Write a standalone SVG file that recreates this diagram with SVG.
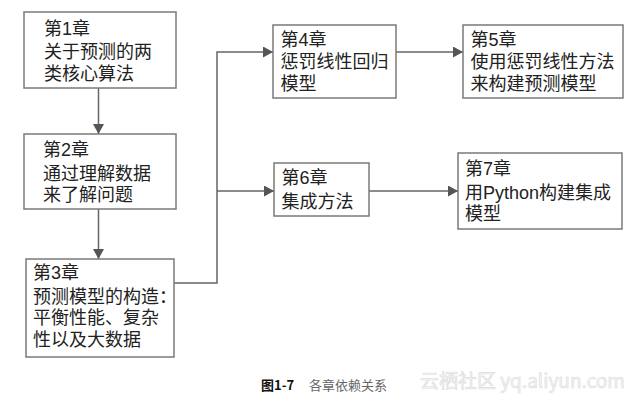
<svg xmlns="http://www.w3.org/2000/svg" width="640" height="402" viewBox="0 0 640 402">
<style>
.box{fill:#fff;stroke:#7a7a7a;stroke-width:1.5}
.t{font-family:"Liberation Sans","Noto Sans CJK SC",sans-serif;font-size:18px;fill:#222}
.c{fill:none;stroke:#666;stroke-width:1.5}
.cap{font-family:"Noto Sans CJK SC","Liberation Sans",sans-serif;font-size:13px}
.wm{font-family:"Noto Sans CJK SC","Liberation Sans",sans-serif;font-size:19px;fill:#f4f4f4;stroke:#dcdcdc;stroke-width:0.6}
</style>
<defs>
<marker id="ah" markerUnits="userSpaceOnUse" markerWidth="11" markerHeight="11" refX="10" refY="5.5" orient="auto">
<path d="M0,0 L10,5.5 L0,11 z" fill="#555"/>
</marker>
</defs>
<rect width="640" height="402" fill="#fff"/>
<g id="connectors">
<line class="c" x1="98.5" y1="88" x2="98.5" y2="134" marker-end="url(#ah)"/>
<line class="c" x1="98.5" y1="209" x2="98.5" y2="259" marker-end="url(#ah)"/>
<path class="c" d="M174,283 H217 V52 H273" marker-end="url(#ah)"/>
<path class="c" d="M217,191 H274" marker-end="url(#ah)"/>
<line class="c" x1="396" y1="52" x2="463" y2="52" marker-end="url(#ah)"/>
<line class="c" x1="369" y1="191" x2="458" y2="191" marker-end="url(#ah)"/>
</g>
<g id="n1">
<rect class="box" x="24" y="12" width="152" height="76"/>
<text class="t" x="44" y="35">第1章</text>
<text class="t" x="44" y="58">关于预测的两</text>
<text class="t" x="44" y="80">类核心算法</text>
</g>
<g id="n2">
<rect class="box" x="24" y="134" width="152" height="75"/>
<text class="t" x="43" y="155.5">第2章</text>
<text class="t" x="43" y="179.5">通过理解数据</text>
<text class="t" x="43" y="201">来了解问题</text>
</g>
<g id="n3">
<rect class="box" x="26" y="259" width="148" height="98"/>
<text class="t" x="33" y="279">第3章</text>
<text class="t" x="33" y="302.5">预测模型的构造：</text>
<text class="t" x="33" y="324">平衡性能、复杂</text>
<text class="t" x="33" y="345.5">性以及大数据</text>
</g>
<g id="n4">
<rect class="box" x="273" y="25" width="123" height="73"/>
<text class="t" x="280.5" y="45.5">第4章</text>
<text class="t" x="280.5" y="68">惩罚线性回归</text>
<text class="t" x="280.5" y="90">模型</text>
</g>
<g id="n5">
<rect class="box" x="463" y="25" width="160" height="73"/>
<text class="t" x="470.5" y="45.5">第5章</text>
<text class="t" x="470.5" y="68">使用惩罚线性方法</text>
<text class="t" x="470.5" y="90">来构建预测模型</text>
</g>
<g id="n6">
<rect class="box" x="274" y="163" width="95" height="53"/>
<text class="t" x="281.5" y="184">第6章</text>
<text class="t" x="281.5" y="208">集成方法</text>
</g>
<g id="n7">
<rect class="box" x="458" y="153" width="164" height="76"/>
<text class="t" x="465" y="175">第7章</text>
<text class="t" x="465" y="199">用Python构建集成</text>
<text class="t" x="465" y="220">模型</text>
</g>
<g id="caption">
<text class="cap" x="261" y="390" font-weight="bold" fill="#111">图1-7</text>
<text class="cap" x="309" y="390" fill="#666">各章依赖关系</text>
<text class="wm" x="420" y="388">云栖社区 yq.aliyun.com</text>
</g>
</svg>
